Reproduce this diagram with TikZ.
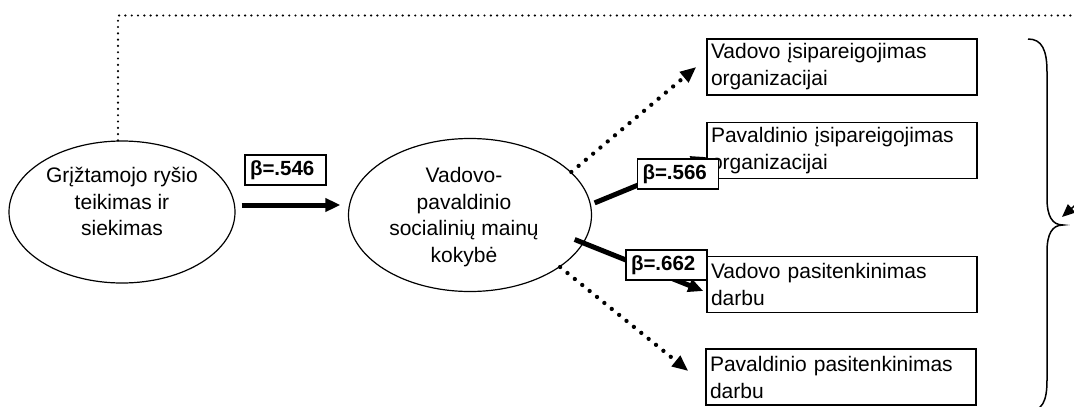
\documentclass[tikz,border=0pt]{standalone}
\usepackage{fontspec}
\setmainfont{Liberation Sans}
\usetikzlibrary{shapes.geometric,arrows.meta}
\begin{document}
\begin{tikzpicture}[x=1pt,y=-1pt,
  construct/.style={ellipse,draw,line width=1.2pt,inner sep=0pt},
  constructtext/.style={align=center,inner sep=0pt,font=\fontsize{21}{26.5}\selectfont},
  measure/.style={draw,line width=1.5pt,minimum width=270pt,minimum height=56pt,
    text width=262pt,inner xsep=4pt,inner ysep=0pt,align=left,
    font=\fontsize{21}{27}\selectfont},
  coef/.style={draw,fill=white,line width=1.3pt,minimum height=30pt,inner ysep=0pt,
    inner xsep=5pt,text width=71pt,align=left,font=\bfseries\fontsize{20.5}{24}\selectfont},
  strongpath/.style={line width=5pt,-{Triangle[length=15pt,width=13pt]}},
  weakpath/.style={line width=4.3pt,line cap=round,dash pattern=on 0pt off 9.5pt,
    -{Triangle[length=16pt,width=13pt]}},
  feedback/.style={line width=2.4pt,line cap=round,dash pattern=on 0pt off 6.3pt},
]
\useasboundingbox (0,0) rectangle (1074,407);

% constructs
\node[construct,minimum width=226pt,minimum height=142pt] (L) at (122,212) {};
\node[constructtext] (Ltext) at (122,201.5) {Grįžtamojo ryšio\\teikimas ir\\siekimas};
\node[construct,minimum width=243pt,minimum height=153pt] (M) at (470,215) {};
\node[constructtext] (Mtext) at (464,217) {Vadovo-\\pavaldinio\\socialinių mainų\\kokybė};

% outcome measures
\node[measure] (b1) at (842,67) {Vadovo įsipareigojimas\\organizacijai};
\node[measure] (b2) at (842,150.5) {Pavaldinio įsipareigojimas\\organizacijai};
\node[measure] (b3) at (842,284.5) {Vadovo pasitenkinimas\\darbu};
\node[measure] (b4) at (841,377) {Pavaldinio pasitenkinimas\\darbu};

% paths
\draw[strongpath,shorten <=6pt,shorten >=7.5pt] ([yshift=7pt]L.east) -- ([yshift=10pt]M.west);
\draw[strongpath,shorten <=4pt] (M.5) -- ([yshift=-6.5pt]b2.west);
\draw[strongpath] ([xshift=-10pt,yshift=2pt]M.-13) -- ([xshift=-3pt,yshift=-6.5pt]b3.west);
\draw[weakpath] (M.23) -- ([xshift=-10pt]b1.west);
\draw[weakpath] (M.-30) -- ([xshift=-17pt,yshift=6pt]b4.west);

% path coefficients
\node[coef] (c1) at (285.5,170) {β=.546};
\node[coef] (c2) at (678,174) {β=.566};
\node[coef] (c3) at (666.5,265) {β=.662};

% feedback loop
\coordinate (fbend) at (1082,15.5);
\coordinate (fbin) at (1082,199);
\coordinate (bracetip) at (1062,217);
\draw[feedback] ([xshift=-4pt]L.north) |- (fbend);
\draw[line width=1.5pt,-{Triangle[length=13pt,width=11pt]}] (fbin) -- (bracetip);

% brace grouping the outcomes
\draw[line width=1.5pt] (1028,39) .. controls (1042,39) and (1047,50) .. (1047,72)
  -- (1047,198) .. controls (1047,216) and (1052,225) .. (1063,225)
  .. controls (1052,225) and (1047,234) .. (1047,252)
  -- (1047,380) .. controls (1047,402) and (1042,411) .. (1028,411);
\end{tikzpicture}
\end{document}
